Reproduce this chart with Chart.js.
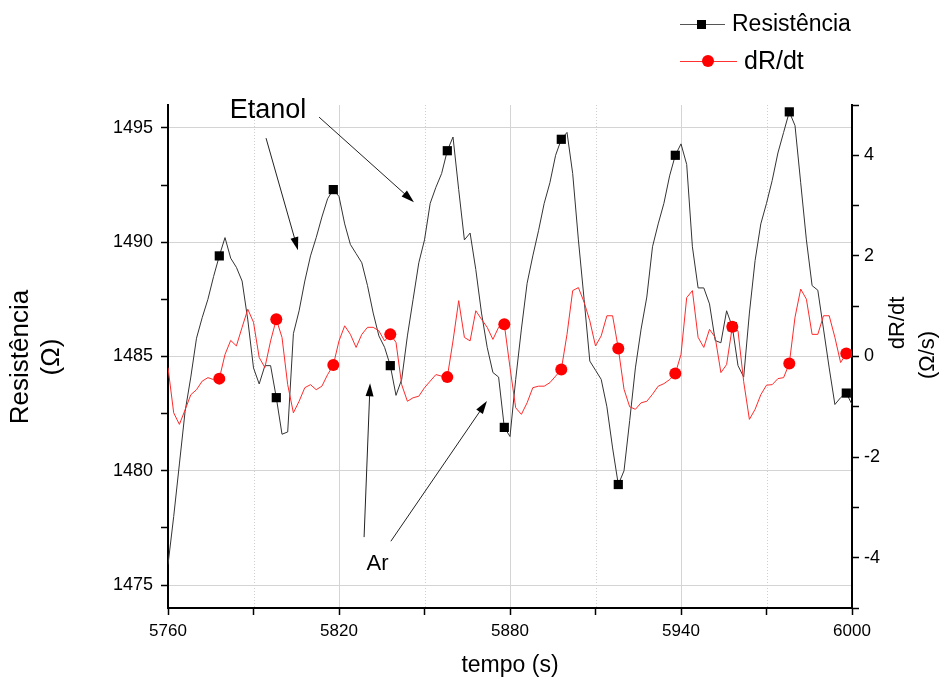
<!DOCTYPE html>
<html>
<head>
<meta charset="utf-8">
<script src="https://cdn.jsdelivr.net/npm/chart.js@4.4.0/dist/chart.umd.min.js"></script>
<style>
  html, body { margin: 0; padding: 0; background: #fff; }
  #wrap { width: 942px; height: 681px; }
</style>
</head>
<body>
<div id="wrap"><canvas id="myChart" width="942" height="681"></canvas></div>
<script>
var FONT = "'Liberation Sans', Arial, sans-serif";

// tempo (s)
var tempo = [
  5760, 5762, 5764, 5766, 5768, 5770, 5772, 5774, 5776, 5778, 5780, 5782, 5784, 5786, 5788, 5790, 5792, 5794, 5796, 5798,
  5800, 5802, 5804, 5806, 5808, 5810, 5812, 5814, 5816, 5818, 5820, 5822, 5824, 5826, 5828, 5830, 5832, 5834, 5836, 5838,
  5840, 5842, 5844, 5846, 5848, 5850, 5852, 5854, 5856, 5858, 5860, 5862, 5864, 5866, 5868, 5870, 5872, 5874, 5876, 5878,
  5880, 5882, 5884, 5886, 5888, 5890, 5892, 5894, 5896, 5898, 5900, 5902, 5904, 5906, 5908, 5910, 5912, 5914, 5916, 5918,
  5920, 5922, 5924, 5926, 5928, 5930, 5932, 5934, 5936, 5938, 5940, 5942, 5944, 5946, 5948, 5950, 5952, 5954, 5956, 5958,
  5960, 5962, 5964, 5966, 5968, 5970, 5972, 5974, 5976, 5978, 5980, 5982, 5984, 5986, 5988, 5990, 5992, 5994, 5996, 5998,
  6000
];

// Resistência (Ω)
var resistencia = [
  1475.9, 1478.0, 1480.3, 1482.6, 1484.1, 1485.8, 1486.7, 1487.5, 1488.5, 1489.4, 1490.2, 1489.3, 1488.9, 1488.3, 1486.6, 1484.5, 1483.8, 1484.6, 1484.6, 1483.2,
  1481.6, 1481.7, 1486.0, 1487.0, 1488.3, 1489.4, 1490.2, 1491.1, 1491.9, 1492.3, 1492.0, 1490.8, 1489.9, 1489.5, 1489.1, 1488.1, 1486.9, 1485.9, 1485.4, 1484.6,
  1483.3, 1484.0, 1485.9, 1487.5, 1489.1, 1490.1, 1491.7, 1492.4, 1493.0, 1494.0, 1494.6, 1492.3, 1490.1, 1490.4, 1488.8, 1486.9, 1485.4, 1484.3, 1484.1, 1481.9,
  1481.5, 1484.0, 1486.2, 1488.2, 1489.4, 1490.5, 1491.7, 1492.6, 1493.8, 1494.5, 1494.8, 1493.0, 1490.1, 1487.5, 1484.8, 1484.4, 1484.0, 1482.8, 1481.0, 1479.4,
  1480.0, 1482.2, 1484.5, 1486.2, 1487.6, 1489.8, 1490.8, 1491.7, 1492.9, 1493.8, 1494.3, 1493.4, 1489.8, 1488.0, 1488.0, 1487.3, 1485.7, 1485.6, 1487.0, 1486.3,
  1484.6, 1484.1, 1486.9, 1489.2, 1490.8, 1491.7, 1492.7, 1493.9, 1494.8, 1495.7, 1495.1, 1492.6, 1490.1, 1488.1, 1487.9, 1486.2, 1484.5, 1482.9, 1483.2, 1483.4,
  1482.9
];

// dR/dt (Ω/s)
var dRdt = [
  -0.22, -1.12, -1.35, -1.06, -0.76, -0.66, -0.49, -0.42, -0.46, -0.44, 0.04, 0.32, 0.21, 0.58, 0.94, 0.68, -0.02, -0.22, 0.31, 0.74,
  0.38, -0.56, -1.12, -0.89, -0.62, -0.56, -0.66, -0.59, -0.36, -0.17, 0.31, 0.61, 0.44, 0.18, 0.44, 0.58, 0.58, 0.51, 0.31, 0.44,
  0.28, -0.56, -0.89, -0.82, -0.79, -0.62, -0.49, -0.36, -0.39, -0.41, 0.31, 1.11, 0.38, 0.31, 0.91, 0.74, 0.58, 0.34, 0.58, 0.64,
  -0.22, -1.02, -1.15, -0.92, -0.62, -0.59, -0.59, -0.52, -0.39, -0.26, 0.44, 1.31, 1.37, 1.08, 0.71, 0.21, 0.41, 0.81, 0.81, 0.16,
  -0.65, -1.0, -1.05, -0.92, -0.89, -0.75, -0.59, -0.54, -0.46, -0.34, 0.04, 1.17, 1.31, 0.38, 0.18, 0.54, 0.38, -0.32, -0.16, 0.59,
  0.51, -0.5, -1.25, -1.05, -0.76, -0.57, -0.56, -0.44, -0.42, -0.14, 0.78, 1.34, 1.14, 0.44, 0.44, 0.81, 0.81, 0.38, -0.12, 0.06,
  0.0
];

// tick labels
var xLabels = [5760, 5820, 5880, 5940, 6000];
var yLabels = [1475, 1480, 1485, 1490, 1495];
var y2Labels = [-4, -2, 0, 2, 4];

// annotations, in data units (tempo, Resistência)
var noteTexts = ['Etanol', 'Ar'];
var notePos = [[5795.1, 1495.75], [5833.5, 1475.93]];
var noteSize = [27, 22];
var arrows = [
  [5794.4, 1494.55, 5805.6, 1489.65],
  [5813.0, 1495.47, 5846.3, 1491.75],
  [5828.8, 1477.10, 5830.9, 1483.83],
  [5838.2, 1476.92, 5871.9, 1483.05]
];

function markerEvery(r) {
  return function(c) { return (c.dataIndex % 10 === 9) ? r : 0; };
}

function drawArrow(ctx, x0, y0, x1, y1) {
  var a = Math.atan2(y1 - y0, x1 - x0), L = 13, W = 4;
  ctx.beginPath();
  ctx.moveTo(x0, y0);
  ctx.lineTo(x1 - L * 0.8 * Math.cos(a), y1 - L * 0.8 * Math.sin(a));
  ctx.stroke();
  ctx.beginPath();
  ctx.moveTo(x1, y1);
  ctx.lineTo(x1 - L * Math.cos(a) + W * Math.sin(a), y1 - L * Math.sin(a) - W * Math.cos(a));
  ctx.lineTo(x1 - L * Math.cos(a) - W * Math.sin(a), y1 - L * Math.sin(a) + W * Math.cos(a));
  ctx.closePath();
  ctx.fill();
}

function vText(ctx, txt, x, y) {
  ctx.save();
  ctx.translate(x, y);
  ctx.rotate(-Math.PI / 2);
  ctx.fillText(txt, 0, 0);
  ctx.restore();
}

var extras = {
  id: 'extras',
  beforeDatasetsDraw: function(chart) {
    // dotted minor grid
    var ctx = chart.ctx, xs = chart.scales.x, a = chart.chartArea;
    ctx.save();
    ctx.strokeStyle = '#cfcfcf';
    ctx.lineWidth = 1;
    ctx.setLineDash([1, 2]);
    xs.ticks.forEach(function(t) {
      if (xLabels.indexOf(t.value) < 0) {
        var px = Math.round(xs.getPixelForValue(t.value)) + 0.5;
        ctx.beginPath();
        ctx.moveTo(px, a.top);
        ctx.lineTo(px, a.bottom);
        ctx.stroke();
      }
    });
    ctx.restore();
  },
  afterDraw: function(chart) {
    var ctx = chart.ctx, xs = chart.scales.x, ys = chart.scales.y;
    ctx.save();
    ctx.fillStyle = '#000';
    ctx.strokeStyle = '#222';
    ctx.lineWidth = 1;

    // annotations
    arrows.forEach(function(r) {
      drawArrow(ctx, xs.getPixelForValue(r[0]), ys.getPixelForValue(r[1]),
                xs.getPixelForValue(r[2]), ys.getPixelForValue(r[3]));
    });
    ctx.textAlign = 'center';
    ctx.textBaseline = 'middle';
    noteTexts.forEach(function(t, i) {
      ctx.font = noteSize[i] + 'px ' + FONT;
      ctx.fillText(t, xs.getPixelForValue(notePos[i][0]), ys.getPixelForValue(notePos[i][1]));
    });

    // y axis titles
    ctx.font = '26px ' + FONT;
    vText(ctx, 'Resistência', 21, 357);
    vText(ctx, '(Ω)', 52, 357);
    ctx.font = '22px ' + FONT;
    vText(ctx, 'dR/dt', 898, 323);
    vText(ctx, '(Ω/s)', 928, 355);

    // legend
    var ds = chart.data.datasets;
    ctx.textAlign = 'left';
    ctx.strokeStyle = '#555';
    ctx.beginPath(); ctx.moveTo(680, 24.5); ctx.lineTo(725, 24.5); ctx.stroke();
    ctx.fillRect(697, 20, 9, 9);
    ctx.font = '23px ' + FONT;
    ctx.fillText(ds[1].label, 732, 25);
    ctx.strokeStyle = '#ff3030';
    ctx.beginPath(); ctx.moveTo(680, 61.5); ctx.lineTo(737, 61.5); ctx.stroke();
    ctx.fillStyle = '#ff0000';
    ctx.beginPath(); ctx.arc(708, 61, 6, 0, Math.PI * 2); ctx.fill();
    ctx.fillStyle = '#000';
    ctx.font = '25px ' + FONT;
    ctx.fillText(ds[0].label, 744, 62);
    ctx.restore();
  }
};

var ctx = document.getElementById('myChart').getContext('2d');
var chart = new Chart(ctx, {
  type: 'line',
  data: {
    datasets: [{
      label: 'dR/dt',
      yAxisID: 'y2',
      data: tempo.map(function(t, i) { return { x: t, y: dRdt[i] }; }),
      borderColor: '#ff2a2a',
      borderWidth: 1,
      pointStyle: 'circle',
      pointRadius: markerEvery(6),
      pointBackgroundColor: '#ff0000',
      pointBorderWidth: 0,
      order: 0
    }, {
      label: 'Resistência',
      yAxisID: 'y',
      data: tempo.map(function(t, i) { return { x: t, y: resistencia[i] }; }),
      borderColor: '#333',
      borderWidth: 1,
      pointStyle: 'rect',
      pointRadius: markerEvery(6.5),
      pointBackgroundColor: '#000',
      pointBorderWidth: 0,
      order: 1
    }]
  },
  options: {
    responsive: false,
    animation: false,
    events: [],
    layout: { padding: { top: 105, left: 0, right: 0, bottom: 0 } },
    plugins: { legend: { display: false }, tooltip: { enabled: false } },
    scales: {
      x: {
        type: 'linear', min: 5760, max: 6000,
        afterFit: function(s) { s.height = 73; },
        ticks: {
          stepSize: 30, autoSkip: false, maxRotation: 0, padding: 6, color: '#000',
          font: { family: FONT, size: 17 },
          callback: function(v) { return xLabels.indexOf(v) >= 0 ? String(v) : ''; }
        },
        grid: {
          color: function(c) { return (c.tick && xLabels.indexOf(c.tick.value) >= 0) ? '#d4d4d4' : 'rgba(0,0,0,0)'; },
          tickColor: '#000', tickLength: 7, tickWidth: 1.5
        },
        border: { color: '#000', width: 2 },
        title: { display: true, text: 'tempo (s)', color: '#000', font: { family: FONT, size: 23 }, padding: { top: 0, bottom: 2 } }
      },
      y: {
        position: 'left', min: 1474, max: 1496,
        afterFit: function(s) { s.width = 168; },
        ticks: {
          stepSize: 2.5, autoSkip: false, includeBounds: false, padding: 8, color: '#000',
          font: { family: FONT, size: 18 },
          callback: function(v) { return yLabels.indexOf(v) >= 0 ? String(v) : ''; }
        },
        grid: {
          color: function(c) { return (c.tick && yLabels.indexOf(c.tick.value) >= 0) ? '#d4d4d4' : 'rgba(0,0,0,0)'; },
          tickColor: '#000', tickLength: 7, tickWidth: 1.5
        },
        border: { color: '#000', width: 2 }
      },
      y2: {
        position: 'right', min: -5, max: 5,
        afterFit: function(s) { s.width = 90; },
        ticks: {
          stepSize: 1, autoSkip: false, includeBounds: false, padding: 5, color: '#000',
          font: { family: FONT, size: 18 },
          callback: function(v) { return y2Labels.indexOf(v) >= 0 ? String(v) : ''; }
        },
        grid: { drawOnChartArea: false, tickColor: '#000', tickLength: 7, tickWidth: 1.5 },
        border: { color: '#000', width: 2 }
      }
    }
  },
  plugins: [extras]
});
</script>
</body>
</html>
